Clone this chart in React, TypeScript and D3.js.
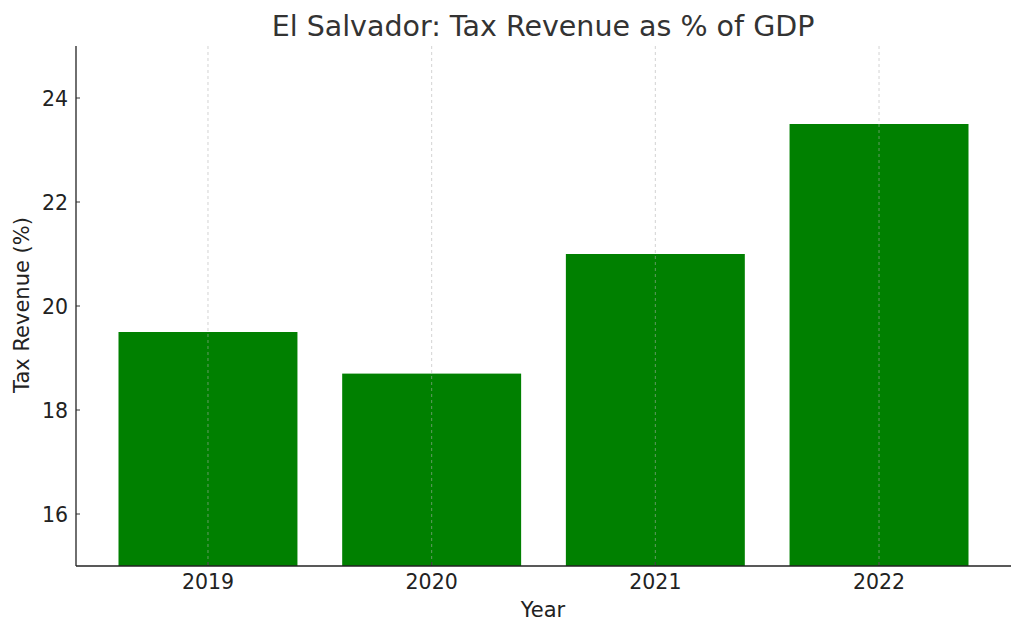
import * as d3 from "d3";

const years = ["2019", "2020", "2021", "2022"];
const revenue = [19.5, 18.7, 21.0, 23.5];
const yTicks = [16, 18, 20, 22, 24];

const W = 1024;
const H = 635;
const margin = { left: 76, right: 13, top: 46, bottom: 69 };
const font = "'DejaVu Sans', sans-serif";

export default function App() {
  const innerW = W - margin.left - margin.right;
  const innerH = H - margin.top - margin.bottom;

  const x = d3.scaleLinear().domain([-0.59, 3.59]).range([0, innerW]);
  const y = d3.scaleLinear().domain([15, 25]).range([innerH, 0]);
  const barW = x(0.8) - x(0);

  return (
    <svg
      width={W}
      height={H}
      style={{ position: "absolute", left: 0, top: 0, background: "#fff" }}
      fontFamily={font}
    >
      <text x={543} y={36} textAnchor="middle" fontSize={28.5} fill="#333">
        El Salvador: Tax Revenue as % of GDP
      </text>
      <g transform={`translate(${margin.left},${margin.top})`}>
        {revenue.map((v, i) => (
          <rect
            key={years[i]}
            x={x(i) - barW / 2}
            y={y(v)}
            width={barW}
            height={y(15) - y(v)}
            fill="#008000"
          />
        ))}
        {years.map((yr, i) => (
          <line
            key={`g-${yr}`}
            x1={x(i)}
            x2={x(i)}
            y1={0}
            y2={innerH}
            stroke="#b0b0b0"
            strokeOpacity={0.7}
            strokeWidth={0.8}
            strokeDasharray="3 3"
          />
        ))}
        {years.map((yr, i) => (
          <g key={`t-${yr}`}>
            <line x1={x(i)} x2={x(i)} y1={innerH} y2={innerH - 4} stroke="#333" />
            <text
              x={x(i)}
              y={innerH + 23}
              textAnchor="middle"
              fontSize={20.5}
              fill="#222"
            >
              {yr}
            </text>
          </g>
        ))}
        {yTicks.map((t) => (
          <g key={`y-${t}`}>
            <line x1={0} x2={4} y1={y(t)} y2={y(t)} stroke="#333" />
            <text
              x={-8}
              y={y(t) + 7.5}
              textAnchor="end"
              fontSize={20.5}
              fill="#222"
            >
              {t}
            </text>
          </g>
        ))}
        <line x1={0} x2={0} y1={0} y2={innerH} stroke="#222" strokeWidth={1.3} />
        <line x1={0} x2={innerW} y1={innerH} y2={innerH} stroke="#222" strokeWidth={1.3} />
        <text
          x={543 - margin.left}
          y={innerH + 51}
          textAnchor="middle"
          fontSize={21}
          fill="#222"
        >
          Year
        </text>
        <text
          transform={`translate(${-47},${305 - margin.top}) rotate(-90)`}
          textAnchor="middle"
          fontSize={21}
          fill="#222"
        >
          Tax Revenue (%)
        </text>
      </g>
    </svg>
  );
}
